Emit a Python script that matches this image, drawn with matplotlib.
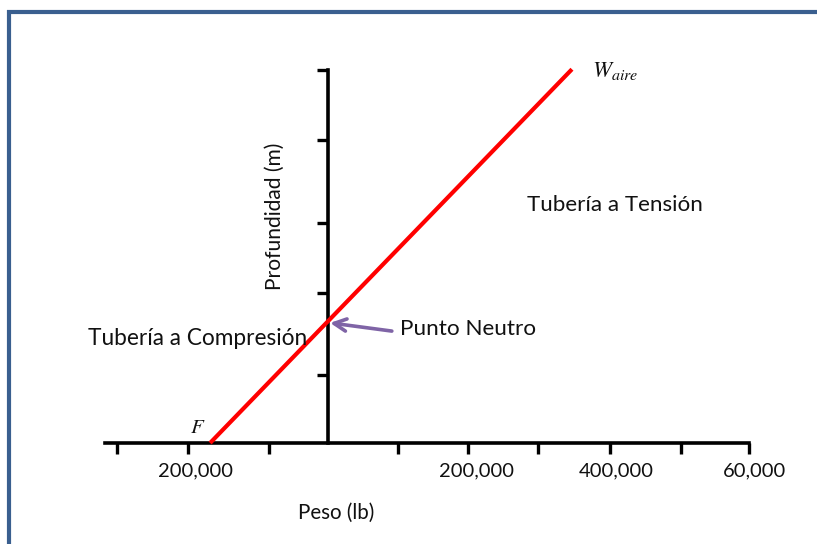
import matplotlib
matplotlib.use("Agg")
import matplotlib.pyplot as plt
from matplotlib.lines import Line2D

# ---------------- data (x in units of 100,000 lb, y in depth units) ----------------
line_x = [-1.68, 3.477]          # red weight line: from F to W_aire
line_y = [0.0, 5.01]
xtick_pos = [-3.0, -2.0, -0.84, 1.0, 2.0, 3.0, 4.02, 5.03, 6.0]
xlabel_pos = [-1.881, 2.123, 4.104, 6.085]
xlabel_txt = ["200,000", "200,000", "400,000", "60,000"]
ytick_pos = [0.91, 2.01, 2.95, 4.06, 5.0]
neutral_point = (0.03, 1.61)
arrow_tail = (0.91, 1.50)
x_axis_bounds = (-3.18, 6.0)
y_axis_bounds = (0.0, 5.0)

plt.rcParams['font.family'] = ['Lato', 'DejaVu Sans']
plt.rcParams['mathtext.fontset'] = 'stix'

fig = plt.figure(figsize=(8.17, 5.44), dpi=100)
fig.patch.set_facecolor('white')
ax = fig.add_axes([0, 0, 1, 1])
ax.set_xlim(-4.674, 6.969)
ax.set_ylim(-1.354, 5.938)
ax.patch.set_alpha(0)

for s in ['top', 'right']:
    ax.spines[s].set_visible(False)
ax.spines['left'].set_position(('data', 0))
ax.spines['bottom'].set_position(('data', 0))
ax.spines['left'].set_bounds(*y_axis_bounds)
ax.spines['bottom'].set_bounds(*x_axis_bounds)
for s in ['left', 'bottom']:
    ax.spines[s].set_linewidth(2.6)
    ax.spines[s].set_color('black')
    ax.spines[s].set_capstyle('projecting')

ax.set_xticks(xtick_pos)
ax.set_yticks(ytick_pos)
ax.tick_params(axis='x', direction='out', length=8, width=2.4, color='black',
               labelbottom=False)
ax.tick_params(axis='y', direction='out', length=8, width=2.4, color='black',
               labelleft=False)

# red line
ax.plot(line_x, line_y, color='#FF0000', lw=3.0, solid_capstyle='butt', zorder=3)

# arrow to neutral point
ax.annotate('', xy=neutral_point, xytext=arrow_tail,
            arrowprops=dict(arrowstyle='->', color='#7F64A6', lw=2.6,
                            mutation_scale=22, shrinkA=0, shrinkB=0), zorder=4)

tc = '#111111'
for xp, t in zip(xlabel_pos, xlabel_txt):
    ax.text(xp, -0.37, t, ha='center', va='center', fontsize=14.5, color=tc)

ax.text(4.09, 3.19, 'Tubería a Tensión', ha='center', va='center', fontsize=16.1, color=tc)
ax.text(-3.42, 1.395, 'Tubería a Compresión', ha='left', va='center', fontsize=16.3, color=tc)
ax.text(1.026, 1.525, 'Punto Neutro', ha='left', va='center', fontsize=16.2, color=tc)
ax.text(-0.755, 3.036, 'Profundidad (m)', ha='center', va='center', rotation=90,
        fontsize=15.1, color=tc)
ax.text(0.114, -0.938, 'Peso (lb)', ha='center', va='center', fontsize=14.8, color=tc)
ax.text(-1.86, 0.22, r'$F$', ha='center', va='center', fontsize=15, color=tc)
ax.text(3.762, 4.906, r'$W_{aire}$', ha='left', va='baseline', fontsize=16.5, color=tc)

# slide frame (top and left edges)
frame_c = '#3A5F8F'
fig.add_artist(Line2D([7/817, 1.0], [1 - 11.5/544, 1 - 11.5/544], color=frame_c, lw=3.0,
                      transform=fig.transFigure, solid_capstyle='butt'))
fig.add_artist(Line2D([9/817, 9/817], [1 - 10/544, 0], color=frame_c, lw=3.0,
                      transform=fig.transFigure, solid_capstyle='butt'))

fig.savefig('out.png', dpi=100, facecolor='white')
